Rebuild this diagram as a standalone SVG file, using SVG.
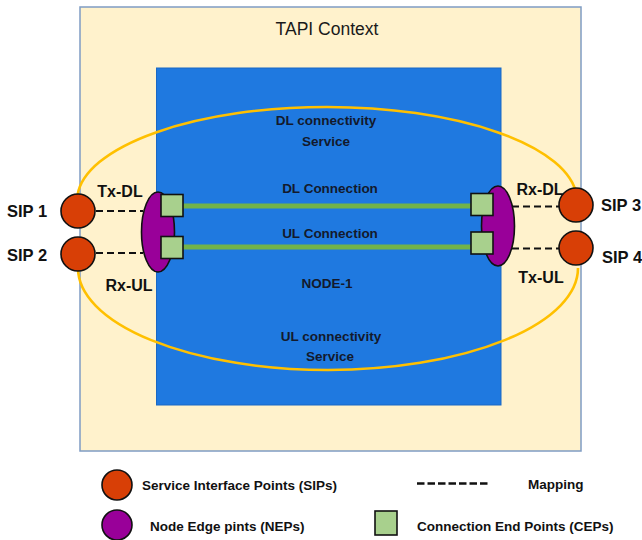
<svg xmlns="http://www.w3.org/2000/svg" width="642" height="540" viewBox="0 0 642 540">
  <style>
    .lbl { font-family: "Liberation Sans", Arial, sans-serif; font-weight: bold; fill: #111; }
    .inner { font-size: 13.5px; fill: #131a2c; text-anchor: middle; }
    .side { font-size: 16px; text-anchor: middle; }
    .sip-name { font-size: 16.5px; }
    .legend { font-size: 13.5px; }
    .sip { fill: #d83f06; stroke: #111; stroke-width: 1.6; }
    .nep { fill: #990099; stroke: #111; stroke-width: 1.6; }
    .cep { fill: #a8d08d; stroke: #111; stroke-width: 1.6; }
    .service { fill: none; stroke: #ffc000; stroke-width: 2.6; }
    .connection { stroke: #72b34a; stroke-width: 5; }
    .mapping { stroke: #111; stroke-width: 2; stroke-dasharray: 7 4; }
  </style>

  <!-- TAPI context -->
  <g id="tapi-context">
    <rect x="80" y="7" width="501" height="444" fill="#fff2cc" stroke="#7f9cc4" stroke-width="1.5"/>
    <text x="327" y="35" font-family="'Liberation Sans', Arial, sans-serif" font-size="17.5" fill="#1a1a1a" text-anchor="middle">TAPI Context</text>
  </g>

  <!-- Node -->
  <g id="node-1">
    <rect x="156.5" y="68" width="344.5" height="337" fill="#1f79e0" stroke="#1a68c4" stroke-width="1"/>
    <text class="lbl inner" x="327" y="288">NODE-1</text>
  </g>

  <!-- Connectors: connectivity services, connections, mappings -->
  <g id="connectors">
    <path id="dl-service" class="service" d="M 77.5 195 A 250 94 0 0 1 576.5 195"/>
    <path id="ul-service" class="service" d="M 78 268 A 250 102 0 0 0 578 268"/>
    <line id="dl-connection" class="connection" x1="183" y1="206" x2="471" y2="206"/>
    <line id="ul-connection" class="connection" x1="183" y1="247" x2="471" y2="247"/>
    <line class="mapping" x1="96" y1="211" x2="143" y2="211"/>
    <line class="mapping" x1="96" y1="253" x2="143" y2="253"/>
    <line class="mapping" x1="512" y1="206.5" x2="559" y2="206.5"/>
    <line class="mapping" x1="512" y1="248.5" x2="559" y2="248.5"/>
  </g>

  <!-- Service / connection labels -->
  <g id="service-labels">
    <text class="lbl inner" x="326" y="125">DL connectivity</text>
    <text class="lbl inner" x="326" y="146">Service</text>
    <text class="lbl inner" x="330" y="193">DL Connection</text>
    <text class="lbl inner" x="330" y="238">UL Connection</text>
    <text class="lbl inner" x="331" y="341">UL connectivity</text>
    <text class="lbl inner" x="330" y="361">Service</text>
  </g>

  <!-- Node edge points -->
  <g id="nep-left">
    <ellipse class="nep" cx="158" cy="232" rx="16.5" ry="40"/>
    <text class="lbl side" x="120" y="197">Tx-DL</text>
    <text class="lbl side" x="129" y="291">Rx-UL</text>
  </g>
  <g id="nep-right">
    <ellipse class="nep" cx="498" cy="226" rx="16.5" ry="40"/>
    <text class="lbl side" x="540" y="195">Rx-DL</text>
    <text class="lbl side" x="541" y="283">Tx-UL</text>
  </g>

  <!-- Connection end points -->
  <g id="cep-dl-a"><rect class="cep" x="161" y="194.5" width="22" height="22"/></g>
  <g id="cep-ul-a"><rect class="cep" x="161" y="236.5" width="22" height="22"/></g>
  <g id="cep-dl-z"><rect class="cep" x="471" y="193.5" width="22" height="22"/></g>
  <g id="cep-ul-z"><rect class="cep" x="471" y="232" width="22" height="22"/></g>

  <!-- Service interface points -->
  <g id="sip-1">
    <circle class="sip" cx="78" cy="211" r="17"/>
    <text class="lbl sip-name" x="7" y="217">SIP 1</text>
  </g>
  <g id="sip-2">
    <circle class="sip" cx="78" cy="254" r="17"/>
    <text class="lbl sip-name" x="7" y="261">SIP 2</text>
  </g>
  <g id="sip-3">
    <circle class="sip" cx="576" cy="205" r="17"/>
    <text class="lbl sip-name" x="601" y="211">SIP 3</text>
  </g>
  <g id="sip-4">
    <circle class="sip" cx="576" cy="248" r="17"/>
    <text class="lbl sip-name" x="602" y="263">SIP 4</text>
  </g>

  <!-- Legend -->
  <g id="legend">
    <circle class="sip" cx="117" cy="485" r="15"/>
    <text class="lbl legend" x="142" y="490">Service Interface Points (SIPs)</text>
    <line x1="417" y1="483.5" x2="490" y2="483.5" stroke="#111" stroke-width="2.6" stroke-dasharray="7.5 3"/>
    <text class="lbl legend" x="528" y="488.5">Mapping</text>
    <circle class="nep" cx="117" cy="525" r="15"/>
    <text class="lbl legend" x="150" y="531">Node Edge pints (NEPs)</text>
    <rect class="cep" x="375" y="511" width="22" height="24"/>
    <text class="lbl legend" x="417" y="531">Connection End Points (CEPs)</text>
  </g>
</svg>
